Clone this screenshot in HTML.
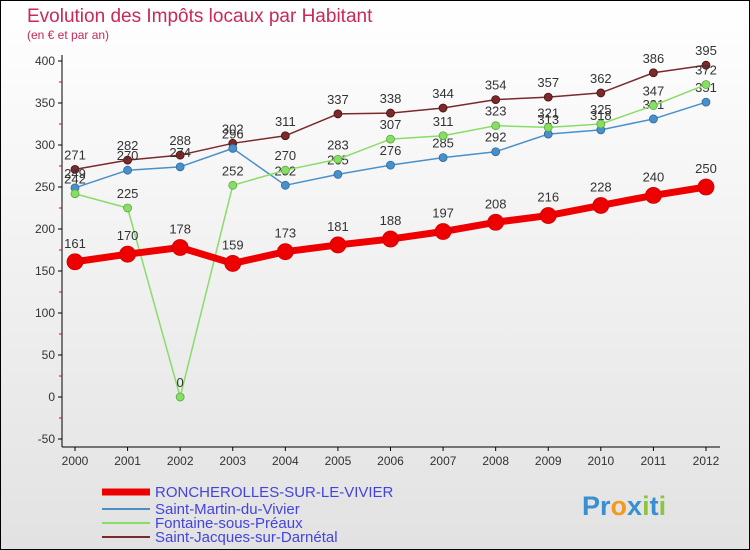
<!DOCTYPE html>
<html><head><meta charset="utf-8"><style>
body{margin:0;width:750px;height:550px;overflow:hidden;font-family:"Liberation Sans","DejaVu Sans",sans-serif}
svg{display:block}
</style></head><body>
<svg width="750" height="550" viewBox="0 0 750 550">
<defs><linearGradient id="bg" x1="0" y1="0" x2="0" y2="1"><stop offset="0" stop-color="#ffffff"/><stop offset="1" stop-color="#e2e2e2"/></linearGradient></defs>
<rect x="0.5" y="0.5" width="749" height="549" fill="url(#bg)" stroke="#000"/>
<text x="27" y="22" font-size="19" fill="#c8285a">Evolution des Impôts locaux par Habitant</text>
<text x="27" y="39" font-size="12" fill="#c8285a">(en € et par an)</text>
<g id="axes"></g>
<g id="series"></g>
<g font-size="15" fill="#4444cc">
<line x1="102" y1="492" x2="150" y2="492" stroke="#ee0000" stroke-width="7"/>
<text x="155" y="497" fill="#4444dd">RONCHEROLLES-SUR-LE-VIVIER</text>
<line x1="102" y1="509" x2="150" y2="509" stroke="#4a90c8" stroke-width="2"/>
<text x="155" y="514" fill="#4444dd">Saint-Martin-du-Vivier</text>
<line x1="102" y1="523" x2="150" y2="523" stroke="#88dd66" stroke-width="2"/>
<text x="155" y="528" fill="#4444dd">Fontaine-sous-Préaux</text>
<line x1="102" y1="537" x2="150" y2="537" stroke="#7a2a2a" stroke-width="2"/>
<text x="155" y="542" fill="#4444dd">Saint-Jacques-sur-Darnétal</text>
</g>
<text x="582" y="515" font-size="27" font-weight="bold"><tspan fill="#3a8fd0">Pr</tspan><tspan fill="#f39a1e">o</tspan><tspan fill="#3a8fd0">x</tspan><tspan fill="#8cc63f">i</tspan><tspan fill="#3a8fd0">t</tspan><tspan fill="#8cc63f">i</tspan></text>
</svg>
<script>
const years=[2000,2001,2002,2003,2004,2005,2006,2007,2008,2009,2010,2011,2012];
const yTicks=[-50,0,50,100,150,200,250,300,350,400];
const roncherolles=[161,170,178,159,173,181,188,197,208,216,228,240,250];
const saintMartin=[249,270,274,296,252,265,276,285,292,313,318,331,351];
const fontaine=[242,225,0,252,270,283,307,311,323,321,325,347,372];
const saintJacques=[271,282,288,302,311,337,338,344,354,357,362,386,395];
const NS="http://www.w3.org/2000/svg";
const xS=i=>75+i*(706-75)/(years.length-1);
const yS=v=>397-v*42/50;
function mk(tag,attrs,parent){const e=document.createElementNS(NS,tag);for(const k in attrs)e.setAttribute(k,attrs[k]);parent.appendChild(e);return e;}
const ax=document.getElementById('axes');
const yaxis=mk('line',{x1:62,y1:55,x2:62,y2:447,stroke:'#000'},ax);


const xaxis=mk('line',{x1:62,y1:447,x2:720,y2:447,stroke:'#000'},ax);


yTicks.forEach((v,k)=>{
 const y=yS(v);
 mk('line',{x1:58,y1:y,x2:62,y2:y,stroke:'#000'},ax);
 if(k>0) mk('line',{x1:59,y1:y+21,x2:62,y2:y+21,stroke:'#e00'},ax);
 const t=mk('text',{x:55,y:y+4,'font-size':12,fill:'#333','text-anchor':'end'},ax);t.textContent=v;
 
 
});
years.forEach((yr,i)=>{
 const x=xS(i);
 mk('line',{x1:x,y1:447,x2:x,y2:451,stroke:'#000'},ax);
 const t=mk('text',{x:x,y:465,'font-size':12,fill:'#333','text-anchor':'middle'},ax);t.textContent=yr;
 
 
});
const sg=document.getElementById('series');
function drawSeries(vals,color,w,r,name,dotStroke){
 const g=mk('g',{},sg);
 
 
 const p=mk('polyline',{points:vals.map((v,i)=>xS(i)+','+yS(v)).join(' '),fill:'none',stroke:color,'stroke-width':w,'stroke-linejoin':'round'},g);
 
 
 vals.forEach((v,i)=>{
  const c=mk('circle',{cx:xS(i),cy:yS(v),r:r,fill:color,stroke:dotStroke,'stroke-width':0.8},g);
  
  
  const t=mk('text',{x:xS(i),y:yS(v)-(r+6),'font-size':13,fill:'#333','text-anchor':'middle'},g);t.textContent=v;
  
  
 });
}
drawSeries(saintJacques,'#7a2a2a',1.5,4,'saint-jacques','#4a1010');
drawSeries(saintMartin,'#4a90c8',1.5,4,'saint-martin','#2a6aa0');
drawSeries(fontaine,'#88dd66',1.5,4,'fontaine','#5aaa3a');
drawSeries(roncherolles,'#ee0000',7,8,'roncherolles','#cc0000');
</script>
</body></html>
